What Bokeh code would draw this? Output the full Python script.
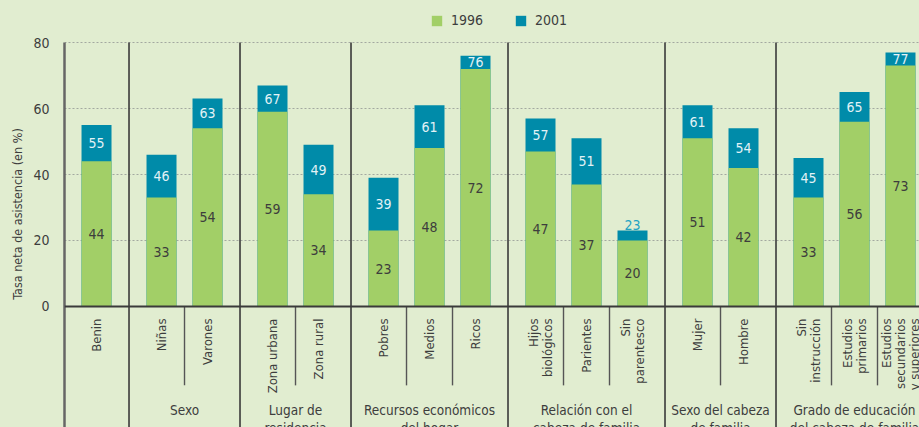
import math
from bokeh.plotting import figure
from bokeh.models import (ColumnDataSource, FixedTicker, Legend, LegendItem, Span,
                          LinearAxis, GlobalInlineStyleSheet)
from bokeh.core.properties import value
from bokeh.embed import file_html
from bokeh.resources import INLINE

# ---------------- data ----------------
categories = ["Benin", "Niñas", "Varones", "Zona urbana", "Zona rural",
              "Pobres", "Medios", "Ricos",
              "Hijos\nbiológicos", "Parientes", "Sin\nparentesco",
              "Mujer", "Hombre",
              "Sin\ninstrucción", "Estudios\nprimarios", "Estudios\nsecundarios\ny superiores"]
group_index = [0, 1, 1, 2, 2, 3, 3, 3, 4, 4, 4, 5, 5, 6, 6, 6]
group_names = ["", "Sexo", "Lugar de\nresidencia", "Recursos económicos\ndel hogar",
               "Relación con el\ncabeza de familia", "Sexo del cabeza\nde familia",
               "Grado de educación\ndel cabeza de familia"]
v1996 = [44, 33, 54, 59, 34, 23, 48, 72, 47, 37, 20, 51, 42, 33, 56, 73]
v2001 = [55, 46, 63, 67, 49, 39, 61, 76, 57, 51, 23, 61, 54, 45, 65, 77]
y_ticks = [0, 20, 40, 60, 80]
y_title = "Tasa neta de asistencia (en %)"

# ---------------- style ----------------
BG = "#e1edd0"
GREEN = "#a2cf67"
TEAL = "#008ba9"
TXT = "#3d3d3d"
FONT = "DejaVu Sans Condensed, Roboto"
GAP = 0.413
BAR_W = 0.652

pos = [i + GAP * g for i, g in enumerate(group_index)]
x_start = -0.696
x_end = 17.891
y_top_axis = 80
y_start = -36.67
y_end = 92.73

p = figure(width=919, height=427, output_backend="svg", toolbar_location=None,
           x_range=(x_start, x_end), y_range=(y_start, y_end),
           x_axis_location=None, min_border_left=64, min_border_right=0,
           min_border_bottom=0, min_border_top=0)
p.background_fill_color = BG
p.border_fill_color = BG
p.outline_line_color = None
p.xgrid.visible = False
p.ygrid.ticker = FixedTicker(ticks=[t for t in y_ticks if t > 0])
p.ygrid.grid_line_color = "#a3a8a0"
p.ygrid.grid_line_dash = "2 2"
p.ygrid.grid_line_width = 1

ax = p.yaxis[0]
ax.ticker = FixedTicker(ticks=y_ticks)
ax.bounds = (y_start, y_top_axis)
ax.axis_line_color = "#666666"
ax.axis_line_width = 2.5
ax.major_tick_line_color = None
ax.minor_tick_line_color = None
ax.major_label_text_font = FONT
ax.major_label_text_font_size = "14px"
ax.major_label_text_color = TXT
ax.major_label_standoff = 9

# second (label only) axis so that the title is centred on the 0-80 scale
ax2 = LinearAxis(ticker=FixedTicker(ticks=[]), bounds=(22, y_top_axis),
                 axis_line_color=None, major_tick_line_color=None,
                 minor_tick_line_color=None, axis_label=y_title,
                 axis_label_text_font=FONT, axis_label_text_font_size="12.5px",
                 axis_label_text_font_style="normal", axis_label_text_color=TXT,
                 axis_label_standoff=6)
p.add_layout(ax2, "left")

src = ColumnDataSource(dict(x=pos, v96=v1996, v01=v2001, cat=categories,
                            mid96=[v / 2 for v in v1996],
                            lab96=[str(v) for v in v1996]))
r01 = p.vbar(x="x", top="v01", width=BAR_W, bottom=0, source=src,
             fill_color=TEAL, line_color=None)
r96 = p.vbar(x="x", top="v96", width=BAR_W, bottom=0, source=src,
             fill_color=GREEN, line_color=None)

# x axis line at zero
p.add_layout(Span(location=0, dimension="width", line_color="#3a3a3a", line_width=2))

# separators
gx, sx = [], []
for k in range(1, len(pos)):
    m = (pos[k - 1] + pos[k]) / 2
    (gx if group_index[k] != group_index[k - 1] else sx).append(m)
p.segment(x0=gx, x1=gx, y0=[y_start] * len(gx), y1=[y_top_axis] * len(gx),
          line_color="#3a3a3a", line_width=1.6)
p.segment(x0=sx, x1=sx, y0=[0] * len(sx), y1=[-23.9] * len(sx),
          line_color="#555555", line_width=1.4)

# value labels 1996
p.text(x="x", y="mid96", text="lab96", source=src, text_align="center",
       text_baseline="middle", text_font=value(FONT), text_font_size="14px",
       text_color=TXT)

# value labels 2001
in_x, in_y, in_t, out_x, out_y, out_t = [], [], [], [], [], []
for x, a, b in zip(pos, v1996, v2001):
    if b - a >= 4:
        in_x.append(x); in_y.append((a + b) / 2); in_t.append(str(b))
    else:
        out_x.append(x); out_y.append(b); out_t.append(str(b))
p.text(x=in_x, y=in_y, text=in_t, text_align="center", text_baseline="middle",
       text_font=value(FONT), text_font_size="14px", text_color="#e3f2f6")
p.text(x=out_x, y=out_y, text=out_t, text_align="center", text_baseline="bottom",
       y_offset=-1, text_font=value(FONT), text_font_size="14px", text_color="#22a3c3")

# category labels (rotated)
p.text(x="x", y=0, text="cat", source=src, angle=math.pi / 2, y_offset=12,
       text_align="right", text_baseline="middle", text_font=value(FONT),
       text_font_size="13px", text_color=TXT, text_line_height=0.95)

# group labels
gcx, gname = [], []
for g, name in enumerate(group_names):
    xs = [x for x, gi in zip(pos, group_index) if gi == g]
    if name:
        gcx.append((min(xs) + max(xs)) / 2); gname.append(name)
p.text(x=gcx, y=[-28.8] * len(gcx), text=gname, text_align="center",
       text_baseline="top", text_font=value(FONT), text_font_size="13.5px",
       text_color=TXT, text_line_height=1.15)

legend = Legend(items=[LegendItem(label="1996", renderers=[r96]),
                       LegendItem(label="2001", renderers=[r01])],
                orientation="horizontal", location=(366, 399),
                glyph_width=13, glyph_height=13, label_standoff=8, spacing=31,
                label_height=16, padding=0, margin=0, border_line_color=None,
                background_fill_alpha=0,
                label_text_font=FONT, label_text_font_size="14px", label_text_color=TXT)
p.add_layout(legend)

p.stylesheets = [GlobalInlineStyleSheet(css=f"body {{ background: {BG}; }}")]

open("out.html", "w").write(file_html(p, INLINE))
